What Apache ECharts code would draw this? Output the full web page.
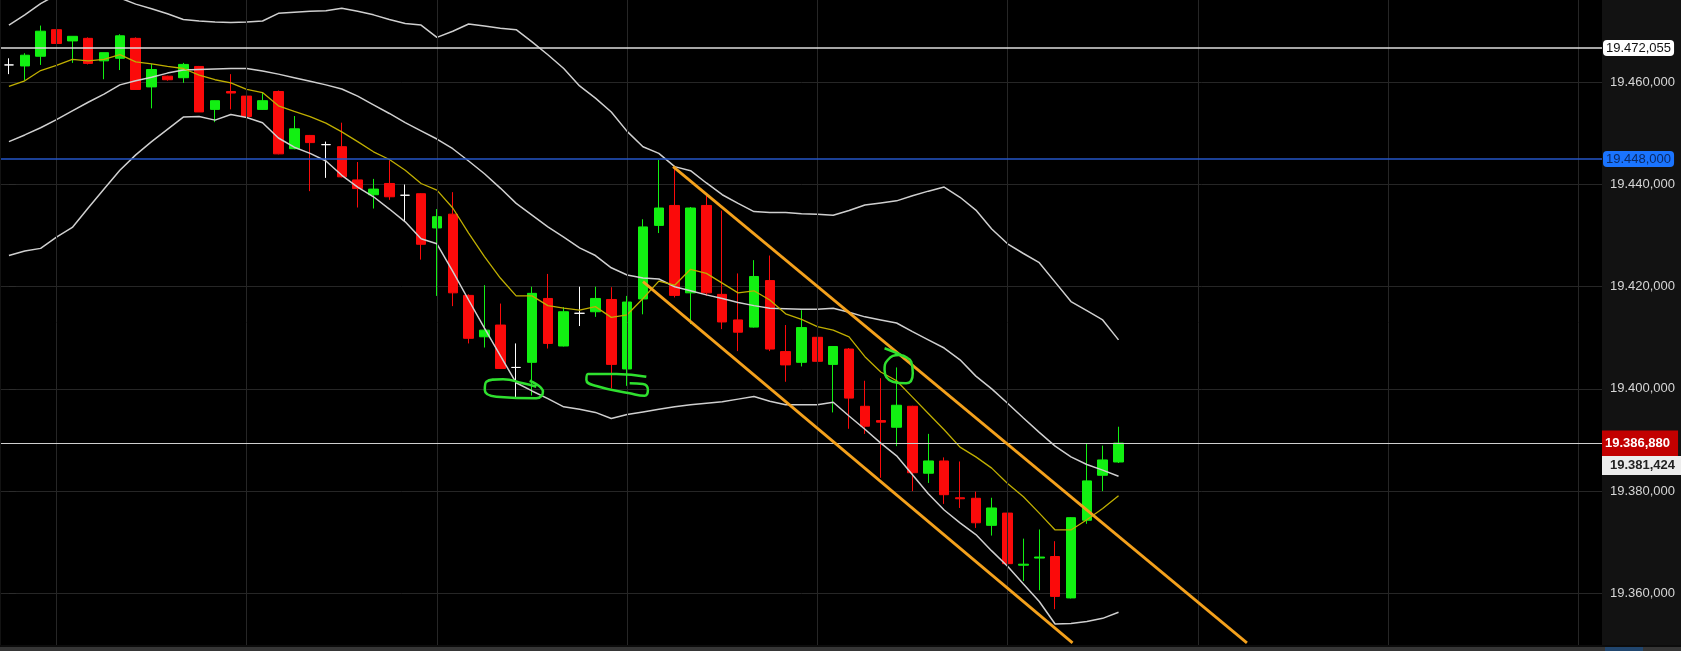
<!DOCTYPE html>
<html>
<head>
<meta charset="utf-8">
<script src="https://cdn.jsdelivr.net/npm/echarts@6/dist/echarts.min.js"></script>
<style>
html,body{margin:0;padding:0;background:#121212;overflow:hidden;}
#chart{width:1681px;height:651px;}
</style>
</head>
<body>
<div id="chart"></div>
<script>
// ---------- data ----------
const categories = Array.from({length: 101}, (_, i) => String(i));

// [open, close, low, high]
const candles = [
  [19463.4,19463.4,19461.6,19464.7],[19463.2,19465.3,19460.3,19465.7],[19465.1,19470.0,19463.4,19471.1],
  [19470.3,19467.6,19467.6,19472.4],[19468.1,19469.0,19463.8,19469.0],[19468.6,19463.7,19463.5,19468.8],
  [19464.2,19465.8,19460.6,19465.8],[19464.7,19469.1,19462.4,19469.4],[19468.6,19458.6,19458.6,19468.8],
  [19459.1,19462.5,19454.9,19463.6],[19461.2,19460.5,19460.3,19461.3],[19460.9,19463.5,19459.9,19463.8],
  [19463.1,19454.2,19454.2,19463.2],[19454.7,19456.4,19452.2,19456.4],[19458.2,19457.9,19454.7,19461.6],
  [19457.3,19453.3,19451.3,19457.6],[19454.7,19456.4,19454.6,19458.0],[19458.2,19446.0,19445.9,19458.4],
  [19447.0,19450.9,19446.9,19453.4],[19449.6,19448.2,19438.7,19449.7],[19447.8,19447.8,19441.3,19448.4],
  [19447.4,19441.5,19441.4,19452.1],[19440.9,19439.2,19435.5,19444.4],[19438.0,19439.1,19435.3,19441.1],
  [19440.2,19437.6,19437.0,19444.7],[19437.9,19437.9,19432.8,19440.0],[19438.2,19428.3,19425.3,19438.3],
  [19431.5,19433.7,19418.2,19435.2],[19434.2,19418.8,19416.2,19438.5],[19418.3,19409.9,19408.9,19418.5],
  [19410.2,19411.5,19408.1,19420.3],[19412.5,19404.0,19403.9,19416.7],[19404.2,19404.2,19398.3,19408.9],
  [19405.2,19418.7,19398.7,19420.0],[19417.7,19408.9,19407.9,19422.5],[19408.4,19415.1,19408.3,19416.0],
  [19414.8,19414.8,19412.3,19420.0],[19415.1,19417.7,19414.1,19420.0],[19417.5,19404.8,19400.1,19419.9],
  [19403.9,19417.0,19400.6,19418.2],[19417.6,19431.7,19414.6,19433.2],[19432.0,19435.4,19430.5,19444.8],
  [19435.9,19418.3,19417.9,19443.4],[19418.8,19435.4,19412.7,19435.6],[19435.9,19418.8,19418.2,19438.0],
  [19418.5,19413.1,19411.7,19434.9],[19413.5,19411.1,19407.4,19422.6],[19412.1,19422.0,19412.0,19425.2],
  [19421.2,19407.8,19407.4,19426.1],[19407.3,19404.7,19401.4,19412.5],[19405.2,19412.0,19404.4,19415.4],
  [19410.1,19405.4,19395.3,19414.8],[19404.8,19408.3,19395.4,19408.4],[19407.8,19398.2,19392.2,19408.0],
  [19396.6,19392.7,19391.2,19401.6],[19393.8,19393.5,19382.6,19402.1],[19392.5,19396.8,19388.8,19404.2],
  [19396.6,19383.6,19380.0,19396.7],[19383.5,19385.9,19381.6,19391.2],[19385.9,19379.3,19377.5,19386.6],
  [19378.7,19378.5,19376.7,19385.8],[19378.6,19373.8,19372.8,19379.9],[19373.3,19376.7,19371.3,19378.7],
  [19375.7,19365.8,19359.8,19375.9],[19365.5,19365.7,19362.4,19370.7],[19366.9,19367.1,19360.6,19372.5],
  [19367.2,19359.4,19356.9,19370.2],[19359.1,19374.8,19359.0,19374.9],[19374.3,19382.0,19373.6,19389.4],
  [19383.1,19386.1,19380.0,19388.9],[19385.7,19389.4,19385.5,19392.6]
];

const bollUpper = [19471.2,19473.2,19475.4,19477.1,19478.1,19478.5,19478.1,19476.5,19475.3,19474.4,
  19473.4,19472.3,19472.0,19471.8,19471.7,19471.8,19472.0,19473.5,19473.7,19473.9,
  19474.0,19474.5,19473.9,19473.2,19472.3,19471.5,19471.2,19468.8,19470.0,19471.4,
  19471.0,19470.6,19470.3,19467.9,19465.4,19462.7,19459.3,19456.9,19454.2,19450.4,
  19447.4,19446.1,19443.5,19442.7,19440.3,19438.0,19436.3,19434.7,19434.5,19434.5,
  19434.3,19434.2,19434.0,19434.9,19436.0,19436.4,19436.8,19437.8,19438.7,19439.5,
  19437.5,19435.0,19431.3,19428.4,19426.5,19424.7,19420.9,19417.1,19415.3,19413.5,19409.6];

const bollMid = [19448.4,19449.7,19451.1,19452.7,19454.4,19456.1,19457.7,19459.5,19460.3,19461.0,
  19461.8,19462.4,19462.5,19462.6,19462.7,19462.7,19462.2,19461.6,19460.9,19460.2,
  19459.5,19458.7,19457.3,19455.6,19453.9,19452.1,19450.5,19448.9,19447.0,19444.6,
  19442.1,19439.3,19436.3,19434.0,19431.7,19429.7,19427.6,19426.1,19423.7,19422.3,
  19421.7,19421.5,19420.0,19419.2,19418.4,19417.7,19416.9,19416.3,19415.8,19415.7,
  19415.6,19415.6,19415.8,19415.0,19414.1,19413.5,19412.9,19411.2,19409.6,19408.0,
  19405.7,19402.5,19400.0,19397.2,19394.3,19391.5,19388.8,19386.7,19385.2,19384.1,19382.9];

const bollLower = [19426.1,19427.0,19427.5,19429.7,19431.6,19435.4,19439.1,19442.8,19445.8,19448.4,
  19450.8,19453.2,19453.3,19452.6,19453.7,19453.1,19452.1,19449.1,19447.3,19446.1,
  19444.6,19441.8,19439.5,19437.6,19435.2,19432.7,19429.4,19428.4,19423.0,19417.4,
  19411.9,19406.5,19401.2,19399.6,19398.1,19396.5,19396.0,19395.4,19394.2,19395.0,
  19395.5,19396.0,19396.5,19396.9,19397.2,19397.5,19398.0,19398.5,19397.6,19396.9,
  19396.9,19396.9,19397.4,19394.7,19392.1,19389.4,19386.9,19383.2,19379.5,19376.3,
  19373.8,19371.5,19368.3,19365.3,19361.8,19358.4,19354.0,19354.1,19354.5,19355.1,19356.3];

const movingAvg = [19459.2,19460.3,19462.3,19463.3,19464.5,19464.2,19464.5,19465.4,19464.0,19463.6,
  19463.1,19462.7,19461.4,19460.5,19459.9,19458.6,19458.0,19455.4,19454.3,19453.3,
  19452.0,19450.3,19448.4,19446.4,19444.9,19442.8,19440.2,19438.9,19435.4,19430.5,
  19425.9,19421.7,19418.2,19418.2,19416.3,19415.8,19415.4,19416.1,19414.0,19414.5,
  19417.7,19421.1,19420.3,19423.4,19422.6,19420.7,19418.8,19419.2,19417.4,19414.7,
  19413.6,19412.2,19411.5,19410.2,19406.3,19403.3,19401.6,19398.4,19395.2,19392.0,
  19388.6,19386.7,19384.5,19381.5,19378.9,19375.7,19372.4,19372.4,19374.4,19376.6,19379.1];

// trend channel [barIndex, price]
const channelUpper = [[41.9,19443.5],[78.1,19350.3]];
const channelLower = [[40.0,19421.0],[67.1,19350.3]];

// hand-drawn green annotations [barIndex, price]
const loopA = [[32.85,19401.6],[33.69,19399.45],[33.27,19398.16],[30.75,19398.48],[30.02,19399.79],
  [30.12,19401.41],[31.17,19401.88],[32.43,19401.1],[33.27,19400.43]];
const loopB = [[40.21,19402.39],[38.32,19402.92],[36.53,19402.92],[36.43,19401.74],[37.06,19400.57],
  [39.16,19399.14],[40.10,19398.67],[40.31,19399.79],[40.0,19400.96],[39.16,19401.1]];
const loopC = [[55.24,19407.95],[56.5,19406.3],[56.92,19405.33],[57.02,19403.06],[56.6,19401.1],
  [55.76,19401.41],[55.24,19403.7],[55.44,19405.66],[56.18,19406.64],[56.69,19406.05]];

// vertical session separators (bar index)
const sessionLines = [3,15,27,39,51,63,75,87,99];

// horizontal price levels and their badge texts
const levelValues = [19466.7, 19445.0, 19389.3, 19385.0];
const levelLabels = ['19.472,055','19.448,000','19.386,880','19.381,424'];

// visible price range and tick step
const yMin = 19349.886, yMax = 19476.106, yStep = 20;

// ---------- styles ----------
const UP = '#12f012', DOWN = '#fb0a0a';
const FONT = '"Liberation Sans", Arial, sans-serif';
const GRIDC = '#262626';

const levelStyles = [
  {line:{color:'#dedede', width:1.5}, label:{backgroundColor:'#ffffff', color:'#111', borderRadius:4, padding:[2,3,1,3], distance:1}},
  {line:{color:'#2456c8', width:1.5}, label:{backgroundColor:'#1a74ff', color:'#0b2a66', borderRadius:4, padding:[2,3,1,3], distance:1}},
  {line:{color:'#cfcfcf', width:1.2}, label:{backgroundColor:'#c20000', color:'#ffffff', fontWeight:'bold', padding:[7,8,6,3], distance:0}},
  {line:{color:'rgba(0,0,0,0)', width:0}, label:{backgroundColor:'#ececec', color:'#222', fontWeight:'bold', padding:[3,6,3,8], distance:0}}
];

const dojiStyle = {color:'#ffffff', color0:'#ffffff', borderColor:'#ffffff', borderColor0:'#ffffff'};
const candleData = candles.map(d => d[0] === d[1] ? {value: d, itemStyle: dojiStyle} : d);

function fmt(v) {
  const s = String(Math.round(v));
  return s.slice(0, 2) + '.' + s.slice(2) + ',000';
}

function loopSeries(pts) {
  return {
    type: 'line', xAxisIndex: 1, yAxisIndex: 0, data: pts, smooth: 0.5,
    showSymbol: false, silent: true, z: 6,
    lineStyle: {color: '#2fe02f', width: 2.5}
  };
}

const chart = echarts.init(document.getElementById('chart'), null, {renderer: 'canvas'});
chart.setOption({
  animation: false,
  backgroundColor: '#121212',
  grid: {left: 1, right: 79, top: 0, bottom: 6, show: true, backgroundColor: '#000000', borderWidth: 0},
  xAxis: [
    {type: 'category', data: categories, boundaryGap: true, show: false},
    {type: 'value', min: -0.5, max: 100.5, show: false}
  ],
  yAxis: {
    type: 'value', position: 'right', min: yMin, max: yMax,
    splitNumber: 6, minInterval: yStep, maxInterval: yStep,
    axisLine: {show: false},
    axisTick: {show: true, length: 7, lineStyle: {color: '#2c2c2c'}},
    splitLine: {show: true, showMinLine: false, showMaxLine: false, lineStyle: {color: GRIDC, width: 1}},
    axisLabel: {show: true, margin: 8, color: '#d6d6d6', fontSize: 13, fontFamily: FONT, formatter: fmt,
      showMinLabel: false, showMaxLabel: false}
  },
  series: [
    {
      type: 'line', xAxisIndex: 1, data: [], z: 1, silent: true,
      markLine: {
        silent: true, symbol: ['none', 'none'], animation: false,
        label: {show: false},
        lineStyle: {color: GRIDC, width: 1, type: 'solid'},
        data: sessionLines.map(x => ({xAxis: x}))
      }
    },
    {
      type: 'line', xAxisIndex: 1, data: [], z: 1, silent: true,
      markLine: {
        silent: true, symbol: ['none', 'none'], animation: false,
        data: levelValues.map((v, i) => ({
          yAxis: v,
          lineStyle: Object.assign({type: 'solid'}, levelStyles[i].line),
          label: Object.assign({
            show: true, position: 'end', formatter: levelLabels[i],
            fontSize: 13, fontFamily: FONT, opacity: 1
          }, levelStyles[i].label)
        }))
      }
    },
    {
      type: 'candlestick', xAxisIndex: 0, data: candleData, barWidth: 10, z: 2,
      itemStyle: {color: UP, color0: DOWN, borderColor: UP, borderColor0: DOWN, borderWidth: 1,
        borderColorDoji: '#ffffff'}
    },
    {type: 'line', xAxisIndex: 0, data: bollUpper, showSymbol: false, silent: true, z: 3,
      lineStyle: {color: '#cfcfcf', width: 1.5}},
    {type: 'line', xAxisIndex: 0, data: bollMid, showSymbol: false, silent: true, z: 3,
      lineStyle: {color: '#cfcfcf', width: 1.5}},
    {type: 'line', xAxisIndex: 0, data: bollLower, showSymbol: false, silent: true, z: 3,
      lineStyle: {color: '#cfcfcf', width: 1.5}},
    {type: 'line', xAxisIndex: 0, data: movingAvg, showSymbol: false, silent: true, z: 4,
      lineStyle: {color: '#bfae00', width: 1.3}},
    {type: 'line', xAxisIndex: 1, data: channelUpper, showSymbol: false, silent: true, z: 5,
      lineStyle: {color: '#f4a11c', width: 2.8}},
    {type: 'line', xAxisIndex: 1, data: channelLower, showSymbol: false, silent: true, z: 5,
      lineStyle: {color: '#f4a11c', width: 2.8}},
    loopSeries(loopA),
    loopSeries(loopB),
    loopSeries(loopC)
  ],
  graphic: [
    {type: 'rect', shape: {x: 0, y: 645, width: 1681, height: 2}, style: {fill: '#0c0c0c'}, z: 100, silent: true},
    {type: 'rect', shape: {x: 0, y: 647, width: 1681, height: 4}, style: {fill: '#363636'}, z: 100, silent: true},
    {type: 'rect', shape: {x: 1605, y: 647, width: 38, height: 4}, style: {fill: '#21466e'}, z: 101, silent: true}
  ]
});
</script>
</body>
</html>
